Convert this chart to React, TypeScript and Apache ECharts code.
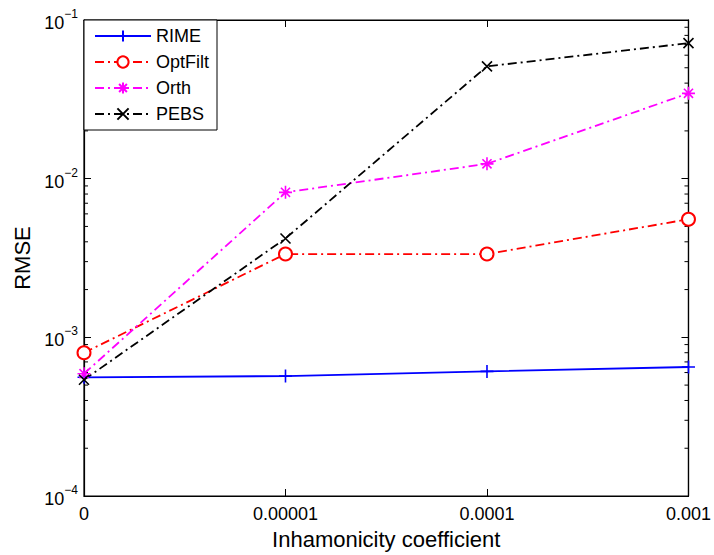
import React, { useEffect, useRef } from "react";
import * as echarts from "echarts";

const categories = ["0", "0.00001", "0.0001", "0.001"];
const seriesNames = ["RIME", "OptFilt", "Orth", "PEBS"];
const rime = [5.6e-4, 5.7e-4, 6.1e-4, 6.5e-4];
const optFilt = [8.0e-4, 3.35e-3, 3.35e-3, 5.55e-3];
const orth = [5.9e-4, 8.2e-3, 1.24e-2, 3.45e-2];
const pebs = [5.4e-4, 4.2e-3, 5.1e-2, 7.15e-2];
const decades = [1e-4, 1e-3, 1e-2];
const minorMultipliers = [2, 3, 4, 5, 6, 7, 8, 9];

const FONT = "Liberation Sans, Arial, Helvetica, sans-serif";

const plusPath = "path://M0,5L10,5M5,0L5,10";
const starPath = "path://M0,5L10,5M5,0L5,10M1.5,1.5L8.5,8.5M1.5,8.5L8.5,1.5";
const xPath = "path://M0,0L10,10M0,10L10,0";

const dashDot = [9, 4, 2, 4];

export default function App() {
  const ref = useRef<HTMLDivElement>(null);
  useEffect(() => {
    if (!ref.current) return;
    const chart = echarts.init(ref.current, null, { renderer: "svg" });
    const minorTicks: number[][] = [];
    decades.forEach((d) => minorMultipliers.forEach((m) => minorTicks.push([0, d * m])));

    const lineSeries = (name: string, data: number[], color: string, symbol: string, size: number, type: any, fill: string) => ({
      name,
      type: "line",
      data,
      xAxisIndex: 0,
      yAxisIndex: 0,
      symbol,
      symbolSize: size,
      showAllSymbol: true,
      lineStyle: { color, width: 1.8, type },
      itemStyle: { color: fill, borderColor: color, borderWidth: 1.6 },
      z: 3,
    });

    const axisLine = { show: true, onZero: false, lineStyle: { color: "#000", width: 1.2 } };
    const axisTick = { show: true, inside: true, length: 7, lineStyle: { color: "#000", width: 1 } };

    chart.setOption({
      animation: false,
      backgroundColor: "#ffffff",
      textStyle: { fontFamily: FONT },
      grid: {
        left: 84,
        top: 20,
        width: 607,
        height: 480,
        containLabel: false,
        show: true,
        borderColor: "#000",
        borderWidth: 1.2,
        backgroundColor: "transparent",
      },
      legend: {
        data: seriesNames,
        orient: "vertical",
        left: 84,
        top: 20,
        backgroundColor: "#ffffff",
        borderColor: "#000000",
        borderWidth: 1,
        borderRadius: 0,
        padding: [7, 8, 7, 10],
        itemWidth: 56,
        itemHeight: 14,
        itemGap: 8,
        textStyle: { fontSize: 18, color: "#000", fontFamily: FONT },
      },
      xAxis: [
        {
          type: "category",
          data: categories,
          boundaryGap: false,
          position: "bottom",
          axisLine,
          axisTick,
          axisLabel: { fontSize: 18, color: "#000", margin: 9, fontFamily: FONT },
          name: "Inhamonicity coefficient",
          nameLocation: "middle",
          nameGap: 32,
          nameTextStyle: { fontSize: 22, color: "#000", fontFamily: FONT },
          splitLine: { show: false },
        },
        {
          type: "category",
          data: categories,
          boundaryGap: false,
          position: "top",
          axisLine,
          axisTick,
          axisLabel: { show: false },
          splitLine: { show: false },
        },
      ],
      yAxis: [
        {
          type: "log",
          logBase: 10,
          min: 1e-4,
          max: 1e-1,
          interval: 1,
          position: "left",
          axisLine,
          axisTick,
          axisLabel: {
            margin: 6,
            color: "#000",
            formatter: (v: number) => {
              const e = Math.round(Math.log10(v));
              return `{b|10}{s|${e < 0 ? "\u2212" + -e : e}}`;
            },
            rich: {
              b: { fontSize: 18, lineHeight: 24, verticalAlign: "bottom", color: "#000", fontFamily: FONT },
              s: { fontSize: 12, lineHeight: 12, padding: [0, 0, 14, 0], verticalAlign: "top", color: "#000", fontFamily: FONT },
            },
          },
          name: "RMSE",
          nameLocation: "middle",
          nameGap: 50,
          nameTextStyle: { fontSize: 22, color: "#000", fontFamily: FONT },
          splitLine: { show: false },
        },
        {
          type: "log",
          logBase: 10,
          min: 1e-4,
          max: 1e-1,
          interval: 1,
          position: "right",
          axisLine,
          axisTick,
          axisLabel: { show: false },
          splitLine: { show: false },
        },
      ],
      series: [
        {
          type: "custom",
          name: "minor",
          silent: true,
          xAxisIndex: 0,
          yAxisIndex: 0,
          data: minorTicks,
          clip: false,
          renderItem: (params: any, api: any) => {
            const cs = params.coordSys;
            const y = api.coord([0, api.value(1)])[1];
            const st = { stroke: "#000", lineWidth: 1 };
            return {
              type: "group",
              children: [
                { type: "line", shape: { x1: cs.x, y1: y, x2: cs.x + 4, y2: y }, style: st },
                { type: "line", shape: { x1: cs.x + cs.width, y1: y, x2: cs.x + cs.width - 4, y2: y }, style: st },
              ],
            };
          },
          z: 1,
        },
        lineSeries("RIME", rime, "#0000ff", plusPath, 13, "solid", "none"),
        lineSeries("OptFilt", optFilt, "#ff0000", "emptyCircle", 13, dashDot, "#ff0000"),
        lineSeries("Orth", orth, "#ff00ff", starPath, 13, dashDot, "none"),
        lineSeries("PEBS", pebs, "#000000", xPath, 10, dashDot, "none"),
      ],
    });
    return () => chart.dispose();
  }, []);
  return (
    <div
      ref={ref}
      style={{ position: "fixed", left: 0, top: 0, width: 714, height: 555, background: "#fff" }}
    />
  );
}
